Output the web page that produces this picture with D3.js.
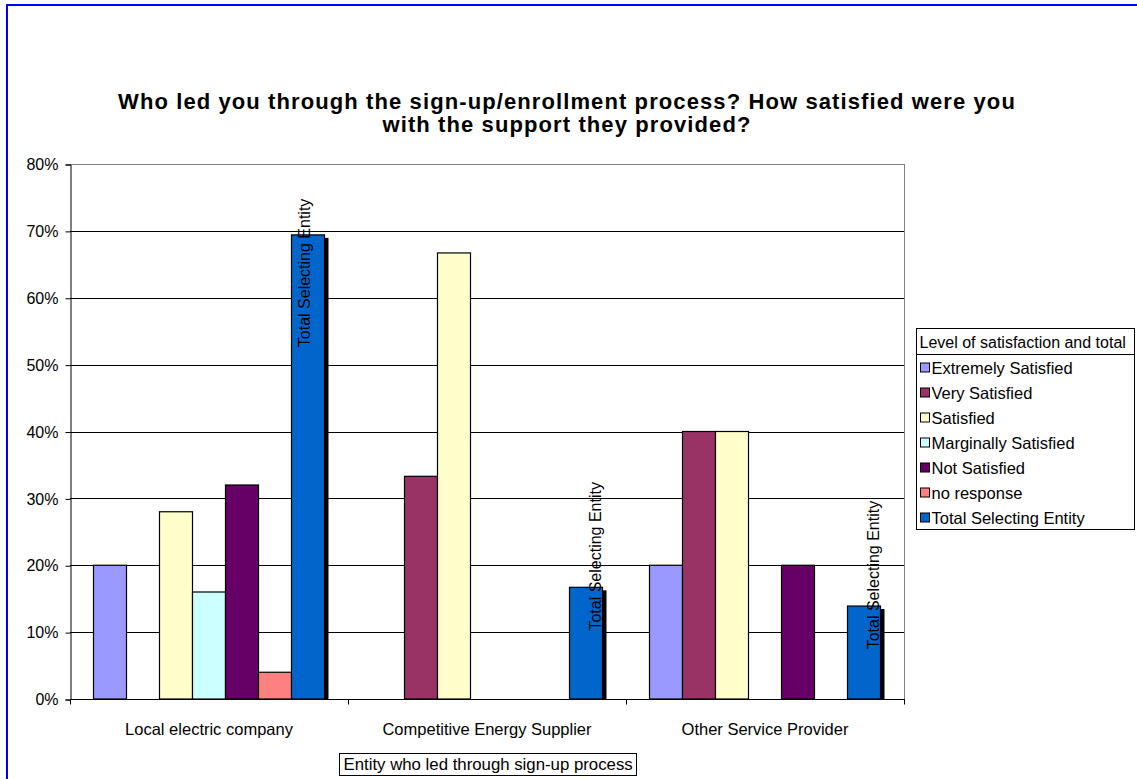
<!DOCTYPE html>
<html>
<head>
<meta charset="utf-8">
<script src="https://cdn.jsdelivr.net/npm/d3@7"></script>
<style>
  html, body { margin: 0; padding: 0; background: #fff; }
  svg { display: block; font-family: Arial, "Liberation Sans", sans-serif; }
</style>
</head>
<body>
<svg id="chart" width="1137" height="779"></svg>
<script>
// Survey results: who led the respondent through enrollment, and satisfaction level
const categories = ["Local electric company", "Competitive Energy Supplier", "Other Service Provider"];
const seriesNames = ["Extremely Satisfied", "Very Satisfied", "Satisfied", "Marginally Satisfied",
                     "Not Satisfied", "no response", "Total Selecting Entity"];
const seriesColors = ["#9999FF", "#993366", "#FFFFCC", "#CCFFFF", "#660066", "#FF8080", "#0066CC"];

// values per series, in category order (null = no bar)
const extremelySatisfied = [0.20, null, 0.20];
const verySatisfied      = [null, 0.333, 0.40];
const satisfied          = [0.28, 0.667, 0.40];
const marginallySatisfied = [0.16, null, null];
const notSatisfied       = [0.32, null, 0.20];
const noResponse         = [0.04, null, null];
const totalSelecting     = [0.694, 0.167, 0.139];

const yTicks = [0, 0.1, 0.2, 0.3, 0.4, 0.5, 0.6, 0.7, 0.8];
const chartTitle = ["Who led you through the sign-up/enrollment process? How satisfied were you",
                    "with the support they provided?"];
const legendTitle = "Level of satisfaction and total";
const xAxisTitle = "Entity who led through sign-up process";

const seriesValues = [extremelySatisfied, verySatisfied, satisfied, marginallySatisfied,
                      notSatisfied, noResponse, totalSelecting];

const svg = d3.select("#chart");
const FONT = "Arial, 'Liberation Sans', sans-serif";

// outer chart frame
svg.append("rect").attr("x", 7).attr("y", 5).attr("width", 1200).attr("height", 800)
  .attr("fill", "#fff").attr("stroke", "#0000FF").attr("stroke-width", 2);

const plot = { left: 70, right: 904, top: 164, bottom: 699 };

const x0 = d3.scaleBand().domain(categories).range([plot.left, plot.right]).padding(0);
const groupPad = 23.5;
const x1 = d3.scaleBand().domain(seriesNames)
  .range([groupPad, x0.bandwidth() - groupPad]).padding(0);
const y = d3.scaleLinear().domain([0, 0.8]).range([plot.bottom, plot.top]);

// title
const title = svg.append("text").attr("text-anchor", "middle")
  .attr("font-size", 22).attr("font-weight", "bold").attr("letter-spacing", 1.1)
  .attr("fill", "#000");
title.selectAll("tspan").data(chartTitle).join("tspan")
  .attr("x", 567).attr("y", (d, i) => 109 + i * 23).text(d => d);

// gridlines
svg.append("g").selectAll("line").data(yTicks.slice(1)).join("line")
  .attr("x1", plot.left).attr("x2", plot.right)
  .attr("y1", d => Math.round(y(d)) + 0.5).attr("y2", d => Math.round(y(d)) + 0.5)
  .attr("stroke", d => d === 0.8 ? "#808080" : "#000").attr("stroke-width", 1);

// right plot border
svg.append("line").attr("x1", plot.right + 0.5).attr("x2", plot.right + 0.5)
  .attr("y1", plot.top).attr("y2", plot.bottom).attr("stroke", "#808080");

// y axis
const yAxis = d3.axisLeft(y).tickValues(yTicks).tickFormat(d3.format(".0%"))
  .tickSize(5).tickPadding(7);
const yG = svg.append("g").attr("transform", `translate(${plot.left + 0.5},0.5)`).call(yAxis);
yG.select(".domain").attr("stroke", "#000");
yG.selectAll(".tick line").attr("stroke", "#000");
yG.selectAll("text").attr("font-size", 16).attr("font-family", FONT).attr("fill", "#000");

// bars
const barData = [];
categories.forEach((c, ci) => {
  seriesNames.forEach((s, si) => {
    const v = seriesValues[si][ci];
    if (v !== null && v !== undefined) barData.push({ cat: c, series: s, si, value: v });
  });
});

const bars = svg.append("g");
// drop shadow behind the total bars
bars.selectAll("rect.shadow").data(barData.filter(d => d.series === "Total Selecting Entity"))
  .join("rect").attr("class", "shadow")
  .attr("x", d => x0(d.cat) + x1(d.series) + 4)
  .attr("y", d => y(d.value) + 3)
  .attr("width", x1.bandwidth())
  .attr("height", d => plot.bottom - y(d.value) - 3)
  .attr("fill", "#000");

bars.selectAll("rect.bar").data(barData).join("rect").attr("class", "bar")
  .attr("x", d => x0(d.cat) + x1(d.series))
  .attr("y", d => y(d.value))
  .attr("width", x1.bandwidth())
  .attr("height", d => plot.bottom - y(d.value))
  .attr("fill", d => seriesColors[d.si])
  .attr("stroke", "#000").attr("stroke-width", 1.2);

// x axis
const xG = svg.append("g").attr("transform", `translate(0,${plot.bottom + 0.5})`);
xG.append("line").attr("x1", plot.left).attr("x2", plot.right + 1).attr("stroke", "#000");
const tickXs = categories.map(c => x0(c)).concat([plot.right]);
xG.selectAll("line.tick").data(tickXs).join("line").attr("class", "tick")
  .attr("x1", d => d + 0.5).attr("x2", d => d + 0.5).attr("y1", 0).attr("y2", 5).attr("stroke", "#000");
xG.selectAll("text").data(categories).join("text")
  .attr("x", d => x0(d) + x0.bandwidth() / 2).attr("y", 35)
  .attr("text-anchor", "middle").attr("font-size", 16.5).attr("fill", "#000").text(d => d);

// rotated labels on the total bars
const labelFont = 16;
const labelLen = 148;
bars.selectAll("text.lbl").data(barData.filter(d => d.series === "Total Selecting Entity"))
  .join("text").attr("class", "lbl")
  .attr("font-size", labelFont).attr("fill", "#000").attr("text-anchor", "middle")
  .attr("transform", d => {
    const cx = x0(d.cat) + x1(d.series) + x1.bandwidth() / 2;
    const top = y(d.value);
    // place above the bar end when it fits in the plot, otherwise inside the bar
    const outside = top - 31 - labelLen / 2 >= plot.top - 10;
    const lx = outside ? cx + 9.5 : cx - 4;
    const ly = outside ? top - 31 : top + 38;
    return `translate(${lx + 0.35 * labelFont},${ly}) rotate(-90)`;
  })
  .text(d => d.series);

// legend
const lg = svg.append("g").attr("transform", "translate(916.5,328.5)");
lg.append("rect").attr("width", 218).attr("height", 201).attr("fill", "#fff").attr("stroke", "#000");
lg.append("line").attr("x1", 0).attr("x2", 218).attr("y1", 26).attr("y2", 26).attr("stroke", "#000");
lg.append("text").attr("x", 3).attr("y", 19).attr("font-size", 16).attr("fill", "#000").text(legendTitle);
const items = lg.selectAll("g.item").data(seriesNames).join("g").attr("class", "item")
  .attr("transform", (d, i) => `translate(0,${39 + i * 25})`);
items.append("rect").attr("x", 4).attr("y", -4.5).attr("width", 9).attr("height", 9)
  .attr("fill", (d, i) => seriesColors[i]).attr("stroke", "#000");
items.append("text").attr("x", 15).attr("y", 6).attr("font-size", 16.5).attr("fill", "#000").text(d => d);

// x axis title box
const xt = svg.append("g").attr("transform", "translate(339.5,753.5)");
xt.append("rect").attr("width", 297).attr("height", 22).attr("fill", "#fff").attr("stroke", "#000");
xt.append("text").attr("x", 4).attr("y", 16.5).attr("font-size", 16.8).attr("fill", "#000").text(xAxisTitle);
</script>
</body>
</html>
